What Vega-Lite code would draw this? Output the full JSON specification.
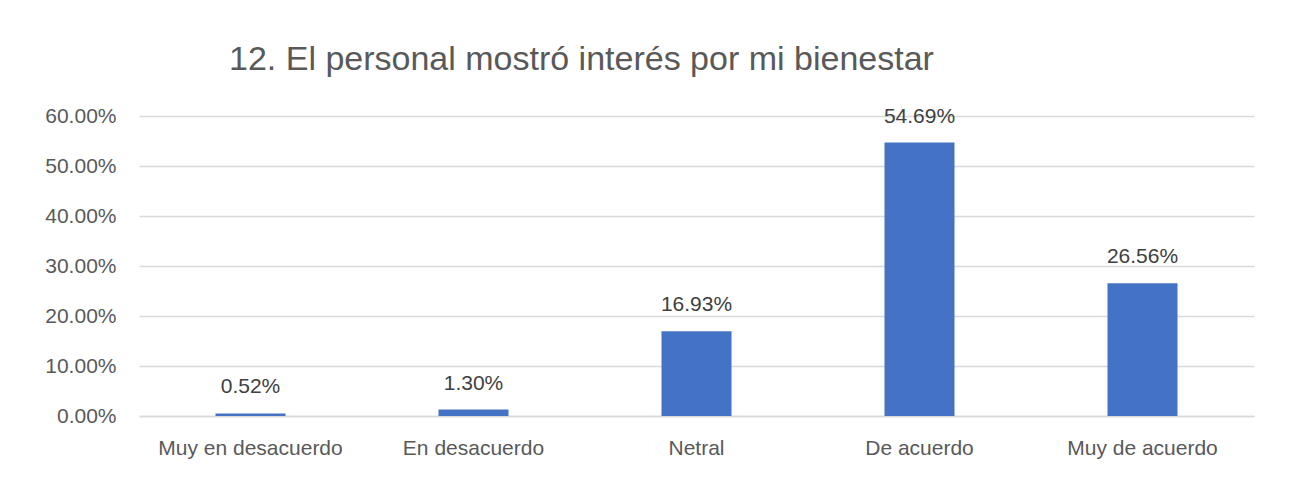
{
  "$schema": "https://vega.github.io/schema/vega-lite/v6.json",
  "width": 1115,
  "height": 300,
  "autosize": {"type": "none"},
  "padding": {"left": 139, "top": 116, "right": 61, "bottom": 81},
  "background": "white",
  "title": {
    "text": "12. El personal mostró interés por mi bienestar",
    "anchor": "start",
    "frame": "group",
    "dx": 90,
    "offset": 28,
    "font": "Liberation Sans",
    "fontSize": 34,
    "fontWeight": "normal",
    "color": "#595959"
  },
  "config": {
    "view": {"stroke": null},
    "font": "Liberation Sans"
  },
  "data": {
    "values": [
      {"categoria": "Muy en  desacuerdo", "porcentaje": 0.0052},
      {"categoria": "En desacuerdo", "porcentaje": 0.013},
      {"categoria": "Netral", "porcentaje": 0.1693},
      {"categoria": "De acuerdo", "porcentaje": 0.5469},
      {"categoria": "Muy de acuerdo", "porcentaje": 0.2656}
    ]
  },
  "encoding": {
    "x": {
      "field": "categoria",
      "type": "nominal",
      "sort": null,
      "scale": {"paddingInner": 0.686, "paddingOuter": 0.343},
      "axis": {
        "title": null,
        "labelAngle": 0,
        "labelFontSize": 21,
        "labelColor": "#595959",
        "labelPadding": 21,
        "labelLimit": 0,
        "labelOverlap": false,
        "ticks": false,
        "domainColor": "#d9d9d9",
        "domainWidth": 1.5
      }
    },
    "y": {
      "field": "porcentaje",
      "type": "quantitative",
      "scale": {"domain": [0, 0.6], "nice": false},
      "axis": {
        "title": null,
        "format": ".2%",
        "values": [0, 0.1, 0.2, 0.3, 0.4, 0.5, 0.6],
        "labelOverlap": false,
        "labelFontSize": 21,
        "labelColor": "#595959",
        "labelPadding": 23,
        "ticks": false,
        "domain": false,
        "gridColor": "#d9d9d9",
        "gridWidth": 1.5
      }
    }
  },
  "layer": [
    {"mark": {"type": "bar", "color": "#4472C4"}},
    {
      "mark": {"type": "text", "baseline": "bottom", "dy": -16, "fontSize": 21, "color": "#404040"},
      "encoding": {"text": {"field": "porcentaje", "type": "quantitative", "format": ".2%"}}
    }
  ]
}
